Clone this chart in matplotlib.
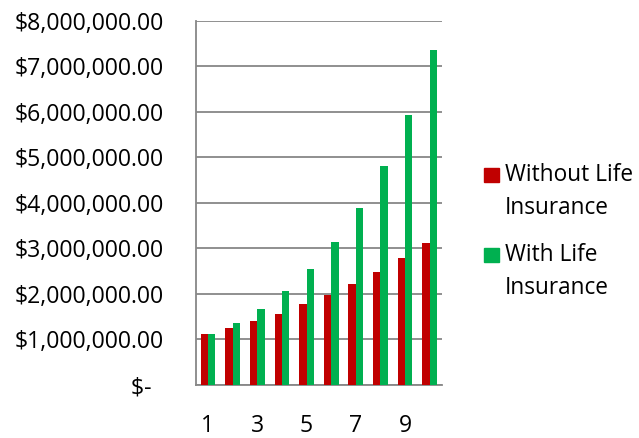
import matplotlib
matplotlib.use('Agg')
import matplotlib.pyplot as plt
import matplotlib.ticker as ticker
from matplotlib.patches import Rectangle
import numpy as np

plt.rcParams['font.family'] = ['Open Sans', 'DejaVu Sans']

years = np.arange(1, 11)
without_life = [1.11e6, 1.25e6, 1.40e6, 1.57e6, 1.77e6, 1.97e6, 2.21e6, 2.48e6, 2.78e6, 3.11e6]
with_life = [1.11e6, 1.365e6, 1.67e6, 2.07e6, 2.55e6, 3.15e6, 3.89e6, 4.80e6, 5.94e6, 7.36e6]
series_names = ['Without Life\nInsurance', 'With Life\nInsurance']
colors = ['#C00000', '#00B050']

W, H = 639, 438
fig = plt.figure(figsize=(W / 100, H / 100), dpi=100)
ax = fig.add_axes([195.7 / W, 1 - 385 / H, (442 - 195.7) / W, (385 - 20.7) / H])

bw = 0.3
ax.bar(years - bw / 2, without_life, width=bw, color=colors[0], zorder=3)
ax.bar(years + bw / 2, with_life, width=bw, color=colors[1], zorder=3)

ax.set_xlim(0.5, 10.5)
ax.set_ylim(0, 8e6)
ax.yaxis.set_major_locator(ticker.MultipleLocator(1e6))
ax.yaxis.set_major_formatter(ticker.FuncFormatter(
    lambda v, p: '$-  ' if v == 0 else '${:,.2f}'.format(v)))
ax.set_xticks(years)
ax.set_xticklabels([str(y) if y % 2 == 1 else '' for y in years])

ax.grid(axis='y', color='#878787', linewidth=1.3, zorder=0)
for s in ['top', 'right']:
    ax.spines[s].set_visible(False)
for s in ['left', 'bottom']:
    ax.spines[s].set_color('#878787')
    ax.spines[s].set_linewidth(1.3)
ax.tick_params(axis='y', length=0, pad=23, labelsize=16.6)
ax.tick_params(axis='x', length=0, pad=21, labelsize=16.6)

# legend drawn by hand so the swatch lines up with the first text line
for i, (name, c) in enumerate(zip(series_names, colors)):
    yc = 175 + i * 80
    fig.add_artist(Rectangle((484 / W, 1 - (yc + 7) / H), 15 / W, 14 / H,
                             transform=fig.transFigure, color=c))
    fig.text(505 / W, 1 - (yc - 12) / H, name, fontsize=16.3, va='top',
             ha='left', linespacing=1.5)

fig.savefig('out.png', dpi=100)
